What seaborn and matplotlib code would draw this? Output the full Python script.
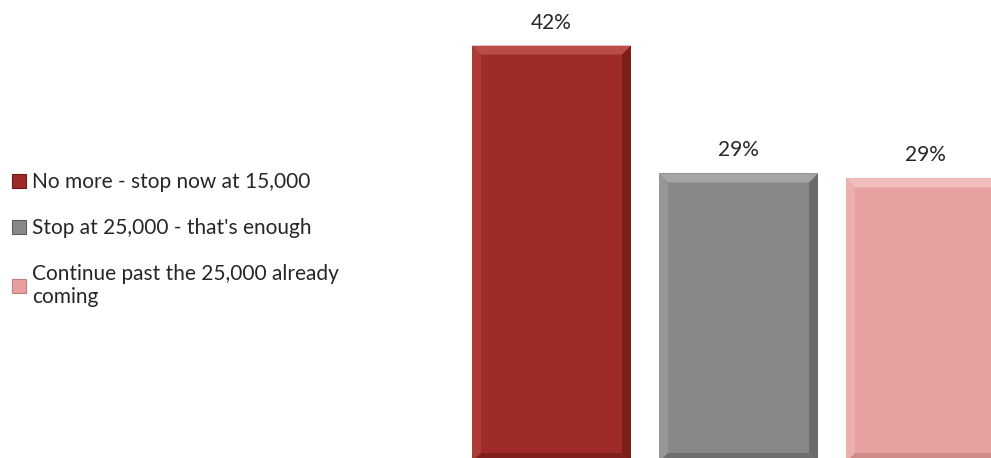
import matplotlib
matplotlib.use("Agg")
import matplotlib.pyplot as plt
from matplotlib.patches import Polygon, Patch
import seaborn as sns
import pandas as pd

# Survey responses: how many more arrivals should be accepted
categories = [
    "No more - stop now at 15,000",
    "Stop at 25,000 - that's enough",
    "Continue past the 25,000 already\ncoming",
]
shares = [42.0, 29.1, 28.6]
colors = ["#9E2B27", "#888888", "#E6A09F"]
light = ["#C0504B", "#A9A9A9", "#F3C2C1"]
dark = ["#6E1A17", "#5E5E5E", "#C07E7D"]

sns.set_theme(style="white")
plt.rcParams["font.family"] = ["Lato", "DejaVu Sans"]

df = pd.DataFrame({"answer": categories, "share": shares})

fig = plt.figure(figsize=(9.91, 4.58), dpi=100)
ax = fig.add_axes([458 / 991, 0.0, 533 / 991, 1.0])

sns.barplot(data=df, x="answer", y="share", hue="answer", palette=colors,
            width=0.85, saturation=1, legend=False, ax=ax, linewidth=0)

ymin, ymax = 0.4, 46.6
ax.set_xlim(-0.5, 2.35)
ax.set_ylim(ymin, ymax)
ax.axis("off")

# bevel edges (pixel-sized, converted to data units)
px_x = (2.35 + 0.5) / 533
px_y = (ymax - ymin) / 458
bev = 9
for i, bar in enumerate(ax.patches):
    x0, y0 = bar.get_x(), bar.get_y()
    w, h = bar.get_width(), bar.get_height()
    x1, y1 = x0 + w, y0 + h
    dx, dy = bev * px_x, bev * px_y
    # top facet
    ax.add_patch(Polygon([(x0, y1), (x1, y1), (x1 - dx, y1 - dy), (x0 + dx, y1 - dy)],
                         closed=True, facecolor=light[i], edgecolor="none", alpha=0.9, zorder=3))
    # left facet
    ax.add_patch(Polygon([(x0, y1), (x0 + dx, y1 - dy), (x0 + dx, y0 + dy), (x0, y0)],
                         closed=True, facecolor=light[i], edgecolor="none", alpha=0.45, zorder=3))
    # right facet
    ax.add_patch(Polygon([(x1, y1), (x1 - dx, y1 - dy), (x1 - dx, y0 + dy), (x1, y0)],
                         closed=True, facecolor=dark[i], edgecolor="none", alpha=0.7, zorder=3))
    # bottom facet
    ax.add_patch(Polygon([(x0, y0), (x0 + dx, y0 + dy), (x1 - dx, y0 + dy), (x1, y0)],
                         closed=True, facecolor=dark[i], edgecolor="none", alpha=0.6, zorder=3))
    # value label
    ax.text(x0 + w / 2, y1 + 23 * px_y, f"{shares[i]:.0f}%", ha="center", va="center",
            fontsize=15, color="#262626")

handles = [Patch(facecolor=c, edgecolor=d, linewidth=0.8) for c, d in zip(colors, dark)]
fig.legend(handles, categories, loc="upper left", bbox_to_anchor=(12 / 991, 1 - 172 / 458),
           frameon=False, fontsize=15, labelcolor="#262626",
           handlelength=0.65, handleheight=0.65, handletextpad=0.3,
           labelspacing=1.25, borderaxespad=0, borderpad=0)

fig.savefig("out.png", dpi=100)
